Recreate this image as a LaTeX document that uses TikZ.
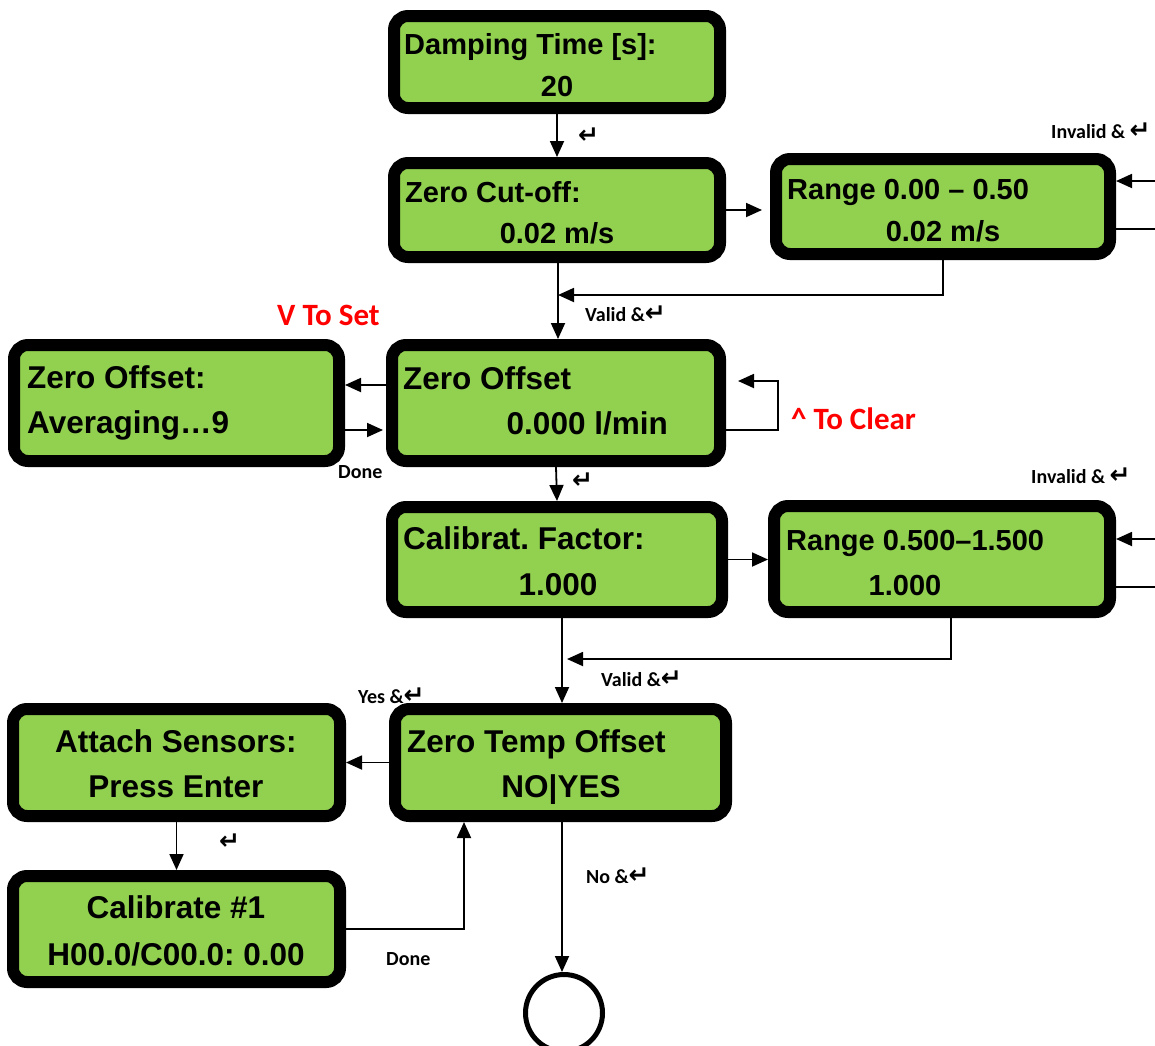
\documentclass[tikz,border=0pt]{standalone}
\usepackage{fontspec}
\setmainfont{Liberation Sans}
\newfontfamily\labfont{Carlito}
\newfontfamily\symfont{DejaVu Sans}
\usetikzlibrary{arrows.meta}
\definecolor{lcd}{HTML}{92D050}
\definecolor{redtxt}{HTML}{FF0000}
\newcommand\retsym{{\symfont\bfseries\fontsize{25}{25}\selectfont ↵}}
\frenchspacing
\begin{document}
\begin{tikzpicture}[x=1pt,y=-1pt,
  lcdbox/.style={draw=black, fill=lcd, line width=12pt, rounded corners=14pt, inner sep=0pt, outer sep=6pt},
  txt/.style={inner sep=0pt, font=\bfseries\fontsize{29}{34}\selectfont},
  txtb/.style={inner sep=0pt, font=\bfseries\fontsize{31.5}{36}\selectfont},
  lab/.style={inner sep=0pt, anchor=base west, font=\labfont\bfseries\fontsize{20}{24}\selectfont},
  redlab/.style={inner sep=0pt, anchor=base west, text=redtxt, font=\labfont\bfseries\fontsize{31}{36}\selectfont},
  symlab/.style={inner sep=0pt, anchor=base west},
  arr/.style={line width=1.8pt, -{Triangle[length=16pt,width=14pt]}},
  ln/.style={line width=1.8pt}]
\useasboundingbox (0,0) rectangle (1155,1045);

% boxes
\node[lcdbox, minimum width=326pt, minimum height=92pt] (damp) at (557,62) {};
\node[lcdbox, minimum width=326pt, minimum height=94pt] (cut) at (557,210) {};
\node[lcdbox, minimum width=334pt, minimum height=95pt] (rngA) at (943,206.5) {};
\node[lcdbox, minimum width=328pt, minimum height=116pt] (zoff) at (556,403) {};
\node[lcdbox, minimum width=325pt, minimum height=116pt] (avg) at (176.5,403) {};
\node[lcdbox, minimum width=330pt, minimum height=105pt] (cal) at (557,559.5) {};
\node[lcdbox, minimum width=336pt, minimum height=106pt] (rngB) at (942,559) {};
\node[lcdbox, minimum width=331pt, minimum height=107pt] (ztemp) at (560.5,762.5) {};
\node[lcdbox, minimum width=327pt, minimum height=107pt] (attach) at (176.5,762.5) {};
\node[lcdbox, minimum width=327pt, minimum height=106pt] (calone) at (176.5,929) {};
\node[circle, draw, line width=5pt, minimum size=77pt, inner sep=0pt, outer sep=2.5pt] (endc) at (564,1013) {};

% box texts
\node[txt, anchor=base west] (dampA) at (404,54) {Damping Time [s]:};
\node[txt, anchor=base] (dampB) at (557,96) {20};
\node[txt, anchor=base west] (cutA) at (405,202) {Zero Cut-off:};
\node[txt, anchor=base] (cutB) at (557,243) {0.02 m/s};
\node[txt, anchor=base west] (rngAa) at (787,199) {Range 0.00 – 0.50};
\node[txt, anchor=base] (rngAb) at (943,241) {0.02 m/s};
\node[txtb, anchor=base west] (zoffA) at (403,389) {Zero Offset};
\node[txtb, anchor=base east] (zoffB) at (668,434) {0.000 l/min};
\node[txtb, anchor=base west] (avgA) at (27,388) {Zero Offset:};
\node[txtb, anchor=base west] (avgB) at (27,433) {Averaging…9};
\node[txtb, anchor=base west] (calA) at (403,549) {Calibrat. Factor:};
\node[txtb, anchor=base] (calB) at (558,595) {1.000};
\node[txt, anchor=base west] (rngBa) at (786,550) {Range 0.500–1.500};
\node[txt, anchor=base] (rngBb) at (905,595) {1.000};
\node[txtb, anchor=base west] (ztempA) at (407,752) {Zero Temp Offset};
\node[txtb, anchor=base] (ztempB) at (561,797) {NO|YES};
\node[txtb, anchor=base] (attachA) at (176,752) {Attach Sensors:};
\node[txtb, anchor=base] (attachB) at (176,797) {Press Enter};
\node[txtb, anchor=base] (caloneA) at (176,918) {Calibrate \#1};
\node[txtb, anchor=base] (caloneB) at (176,965) {H00.0/C00.0: 0.00};

% helper coordinates
\coordinate (rAin) at (1155,181);
\coordinate (rAout) at (1155,229);
\coordinate (jA) at (558,295);
\coordinate (loopc) at (778,381);
\coordinate (loopend) at (738,381);
\coordinate (rBin) at (1155,539);
\coordinate (rBout) at (1155,587);
\coordinate (jB) at (562,659);
\coordinate (kC) at (464,929);

% connectors
\draw[arr] (damp.south) -- (cut.north);
\draw[arr, shorten >=8pt] (cut.east) -- (cut.east -| rngA.west);
\draw[arr] (rAin) -- (rAin -| rngA.east);
\draw[ln] (rAout -| rngA.east) -- (rAout);
\draw[arr] (rngA.south) |- (jA);
\draw[arr] (cut.south -| jA) -- (zoff.north -| jA);
\draw[arr] ([yshift=18pt]zoff.west) -- ([yshift=18pt]avg.east);
\draw[arr, shorten >=3pt] ([yshift=-27pt]avg.east) -- ([yshift=-27pt]zoff.west);
\draw[arr] ([yshift=-27pt]zoff.east) -| (loopc) -- (loopend);
\draw[arr] (zoff.south) -- (cal.north);
\draw[arr] (cal.east) -- (cal.east -| rngB.west);
\draw[arr] (rBin) -- (rBin -| rngB.east);
\draw[ln] (rBout -| rngB.east) -- (rBout);
\draw[arr, shorten >=5pt] ([xshift=9pt]rngB.south) |- (jB);
\draw[arr] (cal.south -| jB) -- (ztemp.north -| jB);
\draw[arr] (ztemp.west) -- (attach.east);
\draw[arr] (attach.south) -- (calone.north);
\draw[arr] (calone.east) -- (kC) -- (kC |- ztemp.south);
\draw[arr] (ztemp.south -| jB) -- (endc.north -| jB);

% labels
\node[symlab] (e1) at (578,143) {\retsym};
\node[lab] (invA) at (1051,138) {Invalid \& \retsym};
\node[lab] (valA) at (585,321) {Valid \&\retsym};
\node[redlab] (vset) at (277,325) {V To Set};
\node[redlab] (clr) at (791,429) {\textasciicircum{} To Clear};
\node[lab] (doneA) at (338,478) {Done};
\node[symlab] (e2) at (572,488) {\retsym};
\node[lab] (invB) at (1031,483) {Invalid \& \retsym};
\node[lab] (valB) at (601,686) {Valid \&\retsym};
\node[lab] (yes) at (358,703) {Yes \&\retsym};
\node[symlab] (e3) at (219,849) {\retsym};
\node[lab] (no) at (586,883) {No \&\retsym};
\node[lab] (doneB) at (386,965) {Done};
\end{tikzpicture}
\end{document}
